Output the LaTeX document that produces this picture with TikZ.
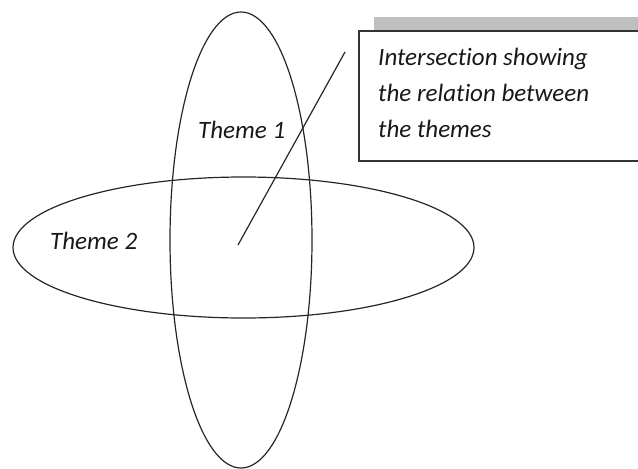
\documentclass[tikz,border=0pt]{standalone}
\usepackage{fontspec}
\setmainfont{Carlito}[Ligatures={NoCommon}]
\usetikzlibrary{shapes.geometric}
\begin{document}
\begin{tikzpicture}[x=1pt,y=-1pt,
  oval/.style={draw=black!85, line width=1.2pt, ellipse, inner sep=0pt},
  label/.style={font=\fontsize{25}{36}\selectfont\itshape, text=black!90, inner sep=0pt, anchor=base west, align=left},
  callout/.style={draw=black!80, line width=1.4pt, fill=white}]
\useasboundingbox (0,0) rectangle (638,469);
% shadow bar and callout box
\fill[black!25] (374,17) rectangle (640,31);
\draw[callout] (640,31) -- (359,31) -- (359,161) -- (640,161);
\node[oval, minimum width=142pt, minimum height=456pt] (t1) at (241,240) {};
\node[oval, minimum width=461pt, minimum height=141pt] (t2) at (243.5,247.5) {};
\node[label] (l1) at (198,138) {Theme 1};
\node[label] (l2) at (50,249) {Theme 2};
\node[label] (box) at (378,137) {Intersection showing\\the relation between\\the themes};
\coordinate (ctr) at (238,245);
\coordinate (tip) at (345,52);
\draw[black!85, line width=1.2pt] (ctr) -- (tip);
\end{tikzpicture}
\end{document}
